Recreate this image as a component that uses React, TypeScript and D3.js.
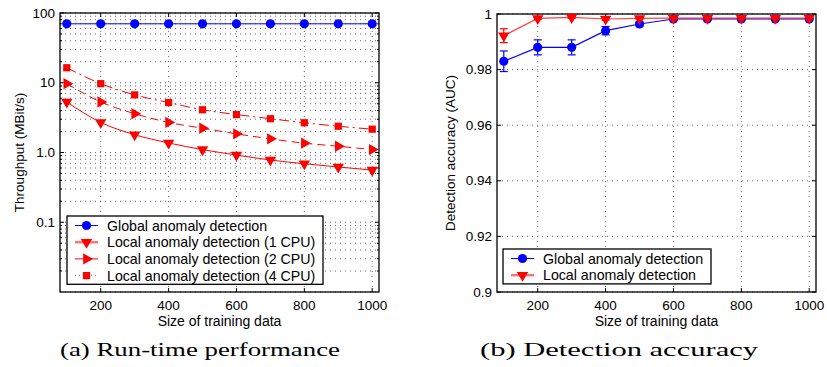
import React, { useEffect, useRef } from "react";
import * as d3 from "d3";

// training set sizes (x axis for both panels)
const sizes = [100, 200, 300, 400, 500, 600, 700, 800, 900, 1000];

// (a) throughput in MBit/s
const globalThroughput = [70, 70, 70, 70, 70, 70, 70, 70, 70, 70];
const local1Cpu = [5.3, 2.7, 1.8, 1.37, 1.1, 0.92, 0.78, 0.69, 0.62, 0.56];
const local2Cpu = [9.7, 5.3, 3.6, 2.7, 2.23, 1.85, 1.57, 1.36, 1.23, 1.1];
const local4Cpu = [16.4, 9.7, 6.7, 5.2, 4.1, 3.5, 3.05, 2.67, 2.38, 2.16];

// (b) detection accuracy (AUC) with error bars
const globalAuc = [0.983, 0.988, 0.988, 0.994, 0.9964, 0.9982, 0.9982, 0.9982, 0.9982, 0.9982];
const globalAucErr = [0.0037, 0.0027, 0.0027, 0.0015, 0.0007, 0.0003, 0.0003, 0.0003, 0.0003, 0.0003];
const localAuc = [0.9922, 0.9984, 0.9988, 0.9982, 0.9984, 0.9985, 0.9985, 0.9985, 0.9985, 0.9985];
const localAucErr = [0.0025, 0.0004, 0.0003, 0.0004, 0.0003, 0.0003, 0.0003, 0.0003, 0.0003, 0.0003];

const sizeTicks = [200, 400, 600, 800, 1000];
const throughputTicks = [0.1, 1, 10, 100];
const throughputTickLabels = ["0.1", "1.0", "10", "100"];
const aucTicks = [0.9, 0.92, 0.94, 0.96, 0.98, 1];
const aucTickLabels = ["0.9", "0.92", "0.94", "0.96", "0.98", "1"];

const sans = "'Liberation Sans', Arial, Helvetica, sans-serif";
const serif = "'Liberation Serif', 'Times New Roman', serif";
const RED = "#ff0000";
const BLUE = "#0000ff";

type Sym = "circle" | "down" | "right" | "square";

function marker(g: d3.Selection<SVGGElement, unknown, null, undefined>, kind: Sym, x: number, y: number, color: string) {
	const types: Record<Sym, [d3.SymbolType, number, number]> = {
		circle: [d3.symbolCircle, 66, 0],
		down: [d3.symbolTriangle, 56, 180],
		right: [d3.symbolTriangle, 56, 90],
		square: [d3.symbolSquare, 52, 0],
	};
	const [t, size, rot] = types[kind];
	g.append("path")
		.attr("d", d3.symbol().type(t).size(size)()!)
		.attr("transform", `translate(${x},${y}) rotate(${rot})`)
		.attr("fill", color);
}

function frame(
	g: d3.Selection<SVGGElement, unknown, null, undefined>,
	x: d3.ScaleLinear<number, number>,
	y: d3.ScaleContinuousNumeric<number, number>,
	yGrid: number[],
	yMinor: number[],
	yTicks: number[],
	yLabels: string[],
	xLabel: string,
	yLabel: string,
	yLabelOffset: number
) {
	const [x0, x1] = x.range();
	const [y0, y1] = y.range(); // bottom, top
	const grid = g.append("g").attr("stroke", "#444").attr("stroke-width", 0.8).attr("stroke-dasharray", "1,4");
	yGrid.forEach((v) => {
		grid.append("line").attr("x1", x0).attr("x2", x1).attr("y1", y(v)).attr("y2", y(v));
	});
	sizeTicks.forEach((v) => {
		grid.append("line").attr("x1", x(v)).attr("x2", x(v)).attr("y1", y0).attr("y2", y1);
	});
	const ticks = g.append("g").attr("stroke", "#000").attr("stroke-width", 1);
	yTicks.forEach((v) => {
		ticks.append("line").attr("x1", x0).attr("x2", x0 + 4).attr("y1", y(v)).attr("y2", y(v));
		ticks.append("line").attr("x1", x1).attr("x2", x1 - 4).attr("y1", y(v)).attr("y2", y(v));
	});
	yMinor.forEach((v) => {
		ticks.append("line").attr("x1", x0).attr("x2", x0 + 2).attr("y1", y(v)).attr("y2", y(v));
		ticks.append("line").attr("x1", x1).attr("x2", x1 - 2).attr("y1", y(v)).attr("y2", y(v));
	});
	sizeTicks.forEach((v) => {
		ticks.append("line").attr("x1", x(v)).attr("x2", x(v)).attr("y1", y0).attr("y2", y0 - 4);
		ticks.append("line").attr("x1", x(v)).attr("x2", x(v)).attr("y1", y1).attr("y2", y1 + 4);
	});
	g.append("rect")
		.attr("x", x0)
		.attr("y", y1)
		.attr("width", x1 - x0)
		.attr("height", y0 - y1)
		.attr("fill", "none")
		.attr("stroke", "#000")
		.attr("stroke-width", 1.3);
	const txt = g.append("g").attr("font-family", sans).attr("fill", "#000");
	yTicks.forEach((v, i) => {
		txt.append("text").attr("x", x0 - 5).attr("y", y(v) + 4.5).attr("text-anchor", "end").attr("font-size", 13.5).text(yLabels[i]);
	});
	sizeTicks.forEach((v) => {
		txt.append("text").attr("x", x(v)).attr("y", y0 + 18).attr("text-anchor", "middle").attr("font-size", 13.5).text(String(v));
	});
	txt.append("text")
		.attr("x", (x0 + x1) / 2)
		.attr("y", y0 + 34)
		.attr("text-anchor", "middle")
		.attr("font-size", 14)
		.text(xLabel);
	txt.append("text")
		.attr("transform", `translate(${x0 - yLabelOffset},${(y0 + y1) / 2}) rotate(-90)`)
		.attr("text-anchor", "middle")
		.attr("font-size", 13.5)
		.text(yLabel);
}

function legend(
	g: d3.Selection<SVGGElement, unknown, null, undefined>,
	x: number,
	y: number,
	w: number,
	rows: { label: string; color: string; sym: Sym; dash: string; width: number; opacity: number }[]
) {
	const rowH = 16.7;
	g.append("rect")
		.attr("x", x)
		.attr("y", y)
		.attr("width", w)
		.attr("height", rows.length * rowH + 1.5)
		.attr("fill", "#fff")
		.attr("stroke", "#000")
		.attr("stroke-width", 1.3);
	rows.forEach((r, i) => {
		const cy = y + 9.5 + i * rowH;
		g.append("line")
			.attr("x1", x + 8)
			.attr("x2", x + 31)
			.attr("y1", cy)
			.attr("y2", cy)
			.attr("stroke", r.color)
			.attr("stroke-width", r.width)
			.attr("stroke-opacity", r.opacity)
			.attr("stroke-dasharray", r.dash);
		marker(g, r.sym, x + 19.5, cy, r.color);
		g.append("text")
			.attr("x", x + 40)
			.attr("y", cy + 5)
			.attr("font-family", sans)
			.attr("font-size", 14.2)
			.text(r.label);
	});
}

function draw(svgEl: SVGSVGElement) {
	const svg = d3.select(svgEl);
	svg.selectAll("*").remove();
	svg.append("rect").attr("width", 827).attr("height", 367).attr("fill", "#fff");

	// ---- (a) run-time performance ----
	const ga = svg.append("g");
	const xa = d3.scaleLinear().domain([80, 1020]).range([60, 379]);
	const ya = d3.scaleLog().domain([0.01, 100]).range([292, 13]);
	const logGrid: number[] = [];
	const logMinor: number[] = [];
	[0.01, 0.1, 1, 10].forEach((d) => {
		for (let k = 1; k <= 9; k++) {
			logGrid.push(d * k);
			if (k > 1) logMinor.push(d * k);
		}
	});
	logGrid.push(100);
	frame(ga, xa, ya, logGrid, logMinor, throughputTicks, throughputTickLabels, "Size of training data", "Throughput (MBit/s)", 36);

	const lineA = d3
		.line<number>()
		.x((_, i) => xa(sizes[i]))
		.y((d) => ya(d))
		.curve(d3.curveMonotoneX);
	const seriesA: { data: number[]; color: string; sym: Sym; dash: string }[] = [
		{ data: globalThroughput, color: BLUE, sym: "circle", dash: "" },
		{ data: local1Cpu, color: RED, sym: "down", dash: "" },
		{ data: local2Cpu, color: RED, sym: "right", dash: "8,5" },
		{ data: local4Cpu, color: RED, sym: "square", dash: "10,4,2,4" },
	];
	seriesA.forEach((s) => {
		ga.append("path")
			.attr("d", lineA(s.data)!)
			.attr("fill", "none")
			.attr("stroke", s.color)
			.attr("stroke-width", 1)
			.attr("stroke-dasharray", s.dash);
		s.data.forEach((v, i) => marker(ga, s.sym, xa(sizes[i]), ya(v), s.color));
	});
	legend(ga, 67, 216, 256, [
		{ label: "Global anomaly detection", color: BLUE, sym: "circle", dash: "", width: 1, opacity: 1 },
		{ label: "Local anomaly detection (1 CPU)", color: RED, sym: "down", dash: "", width: 2.5, opacity: 0.55 },
		{ label: "Local anomaly detection (2 CPU)", color: RED, sym: "right", dash: "", width: 1, opacity: 1 },
		{ label: "Local anomaly detection (4 CPU)", color: RED, sym: "square", dash: "1,3", width: 1.5, opacity: 0.6 },
	]);
	ga.append("text")
		.attr("x", 200)
		.attr("y", 356)
		.attr("text-anchor", "middle")
		.attr("font-family", serif)
		.attr("font-size", 18.5)
		.attr("textLength", 280)
		.attr("lengthAdjust", "spacingAndGlyphs")
		.text("(a) Run-time performance");

	// ---- (b) detection accuracy ----
	const gb = svg.append("g");
	const xb = d3.scaleLinear().domain([80, 1020]).range([497, 816]);
	const yb = d3.scaleLinear().domain([0.9, 1.0]).range([292, 14]);
	frame(gb, xb, yb, aucTicks, [], aucTicks, aucTickLabels, "Size of training data", "Detection accuracy (AUC)", 42);

	const lineB = d3
		.line<number>()
		.x((_, i) => xb(sizes[i]))
		.y((d) => yb(d));
	const seriesB: { data: number[]; err: number[]; color: string; sym: Sym; opacity: number }[] = [
		{ data: globalAuc, err: globalAucErr, color: BLUE, sym: "circle", opacity: 1 },
		{ data: localAuc, err: localAucErr, color: RED, sym: "down", opacity: 0.75 },
	];
	seriesB.forEach((s) => {
		gb.append("path")
			.attr("d", lineB(s.data)!)
			.attr("fill", "none")
			.attr("stroke", s.color)
			.attr("stroke-opacity", s.opacity)
			.attr("stroke-width", 1.2);
		s.data.forEach((v, i) => {
			const cx = xb(sizes[i]);
			const top = yb(v + s.err[i]);
			const bot = yb(v - s.err[i]);
			const eb = gb.append("g").attr("stroke", s.color).attr("stroke-width", 1.2);
			eb.append("line").attr("x1", cx).attr("x2", cx).attr("y1", top).attr("y2", bot);
			eb.append("line").attr("x1", cx - 4).attr("x2", cx + 4).attr("y1", top).attr("y2", top);
			eb.append("line").attr("x1", cx - 4).attr("x2", cx + 4).attr("y1", bot).attr("y2", bot);
			marker(gb, s.sym, cx, yb(v), s.color);
		});
	});
	legend(gb, 503, 249, 208, [
		{ label: "Global anomaly detection", color: BLUE, sym: "circle", dash: "", width: 1, opacity: 1 },
		{ label: "Local anomaly detection", color: RED, sym: "down", dash: "", width: 2.5, opacity: 0.55 },
	]);
	gb.append("text")
		.attr("x", 619)
		.attr("y", 356)
		.attr("text-anchor", "middle")
		.attr("font-family", serif)
		.attr("font-size", 18.5)
		.attr("textLength", 278)
		.attr("lengthAdjust", "spacingAndGlyphs")
		.text("(b) Detection accuracy");
}

export default function App() {
	const ref = useRef<SVGSVGElement>(null);
	useEffect(() => {
		if (!ref.current) return;
		draw(ref.current);
	}, []);
	return <svg ref={ref} width={827} height={367} style={{ position: "absolute", left: 0, top: 0 }} />;
}
